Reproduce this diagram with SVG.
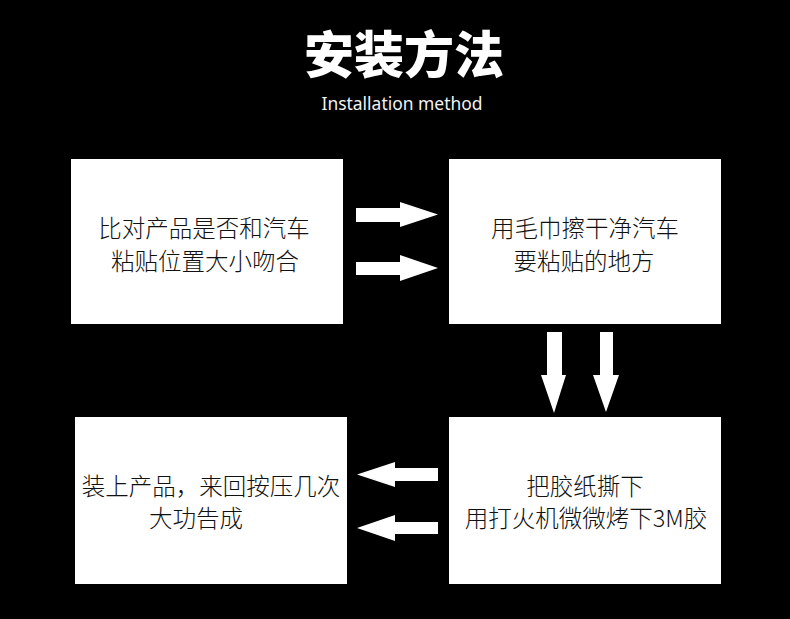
<svg xmlns="http://www.w3.org/2000/svg" width="790" height="619" viewBox="0 0 790 619">
<style>
.box{fill:#fff}
.t{font-family:"Noto Sans CJK SC","Noto Sans",sans-serif;font-size:23.5px;font-weight:300;fill:#111;text-anchor:middle}
.arr{fill:#fff}
</style>
<rect width="790" height="619" fill="#000"/>
<g id="title">
<text x="404" y="73" font-family="'Noto Sans CJK SC',sans-serif" font-size="50" font-weight="900" fill="#fff" text-anchor="middle">安装方法</text>
<text x="402" y="110" font-family="'Noto Sans',sans-serif" font-size="18" font-weight="400" fill="#f2f2f2" text-anchor="middle" textLength="161" lengthAdjust="spacingAndGlyphs">Installation method</text>
</g>
<g id="step1">
<rect class="box" x="71" y="159" width="272" height="165"/>
<text class="t" x="204" y="237">比对产品是否和汽车</text>
<text class="t" x="205" y="270">粘贴位置大小吻合</text>
</g>
<g id="step2">
<rect class="box" x="449" y="159" width="272" height="165"/>
<text class="t" x="585" y="237">用毛巾擦干净汽车</text>
<text class="t" x="584" y="270">要粘贴的地方</text>
</g>
<g id="step3">
<rect class="box" x="449" y="417" width="272" height="167"/>
<text class="t" x="585" y="495">把胶纸撕下</text>
<text class="t" x="586" y="527">用打火机微微烤下3M胶</text>
</g>
<g id="step4">
<rect class="box" x="75" y="417" width="272" height="167"/>
<text class="t" x="211" y="495">装上产品，来回按压几次</text>
<text class="t" x="196" y="527">大功告成</text>
</g>
<g id="connectors">
<polygon class="arr" points="356,208 400,208 400,202 438,214.5 400,227 400,222 356,222"/>
<polygon class="arr" points="356,262 400,262 400,255 438,268 400,281 400,275 356,275"/>
<polygon class="arr" points="547,332 562,332 562,375 566,375 554,413 541,375 547,375"/>
<polygon class="arr" points="600,332 613,332 613,375 619,375 606,412 593,375 600,375"/>
<polygon class="arr" points="438,468 395,468 395,462 357,474.5 395,487 395,481 438,481"/>
<polygon class="arr" points="438,522 395,522 395,515 357,528 395,541 395,534 438,534"/>
</g>
</svg>
